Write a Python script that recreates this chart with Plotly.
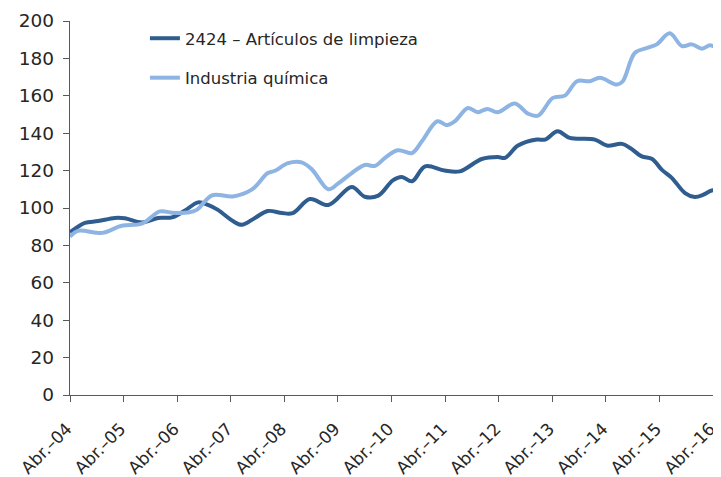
import plotly.graph_objects as go

# Series: 2424 - Artículos de limpieza (dark)
limpieza_dates = ["2004-04-01", "2004-05-25", "2004-07-12", "2004-10-10", "2005-02-01", "2005-04-10",
                  "2005-08-04", "2005-11-22", "2006-02-25", "2006-05-22", "2006-08-22", "2006-10-28",
                  "2007-01-04", "2007-04-16", "2007-06-16", "2007-09-13", "2007-12-10", "2008-03-16",
                  "2008-05-28", "2008-09-22", "2009-01-25", "2009-07-04", "2009-10-01", "2010-01-01",
                  "2010-04-10", "2010-06-10", "2010-08-19", "2010-11-16", "2011-03-28", "2011-07-10",
                  "2011-12-07", "2012-03-25", "2012-05-13", "2012-08-10", "2012-12-16", "2013-02-10",
                  "2013-05-07", "2013-07-28", "2014-01-16", "2014-04-07", "2014-07-19", "2014-09-13",
                  "2014-12-01", "2015-02-10", "2015-04-16", "2015-06-25", "2015-09-22", "2015-11-28",
                  "2016-01-22", "2016-03-22", "2016-04-19"]
limpieza_values = [87, 90, 92, 93, 94.7, 94.5,
                   92.3, 94.7, 95, 98.5, 103, 101.7,
                   99, 93, 91, 94.7, 98.4, 97.3,
                   97.3, 104.8, 101.6, 111.2, 106, 106.6,
                   114.8, 116.6, 114.3, 122.3, 120, 119.6,
                   126.2, 127.3, 126.8, 133.4, 136.6, 136.6,
                   141, 137.5, 136.6, 133.4, 134.3, 132.1,
                   127.6, 126.2, 120.5, 116, 108, 105.9,
                   107, 109.4, 109.2]

# Series: Industria química (light)
quimica_dates = ["2004-04-01", "2004-05-25", "2004-11-07", "2005-03-19", "2005-08-04", "2005-12-04",
                 "2006-02-25", "2006-06-13", "2006-08-13", "2006-11-25", "2007-04-16", "2007-08-22",
                 "2007-12-10", "2008-01-28", "2008-04-25", "2008-07-28", "2008-10-07", "2009-01-25",
                 "2009-04-01", "2009-07-04", "2009-10-01", "2009-12-10", "2010-02-16", "2010-05-13",
                 "2010-08-19", "2010-10-25", "2011-02-07", "2011-04-13", "2011-06-07", "2011-09-04",
                 "2011-11-10", "2012-01-13", "2012-03-25", "2012-07-19", "2012-10-16", "2012-12-25",
                 "2013-04-04", "2013-06-25", "2013-09-16", "2013-12-13", "2014-02-19", "2014-06-16",
                 "2014-07-25", "2014-10-16", "2015-01-13", "2015-03-13", "2015-06-10", "2015-09-01",
                 "2015-11-07", "2016-01-16", "2016-03-10", "2016-04-19"]
quimica_values = [84.6, 87.8, 86.7, 90.5, 91.6, 98.2,
                  97.5, 97.6, 99, 106.8, 106.2, 109.8,
                  118.7, 119.9, 124, 124.4, 120.5, 110,
                  113, 118.7, 123, 122.5, 126.8, 130.9,
                  129.4, 135.7, 146.4, 144.3, 146.4, 153.5,
                  151.2, 153, 151.2, 155.9, 150.5, 149.4,
                  158.9, 160.1, 167.8, 167.8, 169.6, 166,
                  167.8, 183, 185.7, 187.5, 193.4, 186.6,
                  187.5, 185.2, 187, 185.7]

tick_dates = ["2004-04-01", "2005-04-01", "2006-04-01", "2007-04-01", "2008-04-01", "2009-04-01",
              "2010-04-01", "2011-04-01", "2012-04-01", "2013-04-01", "2014-04-01", "2015-04-01",
              "2016-04-01"]
tick_labels = ["Abr.–04", "Abr.–05", "Abr.–06", "Abr.–07", "Abr.–08", "Abr.–09",
               "Abr.–10", "Abr.–11", "Abr.–12", "Abr.–13", "Abr.–14", "Abr.–15", "Abr.–16"]

FONT = "DejaVu Sans"
TXT = "#262626"
AX = "#595959"

fig = go.Figure()
fig.add_trace(go.Scatter(x=limpieza_dates, y=limpieza_values, mode="lines",
                         name="2424 – Artículos de limpieza", legendgroup="a",
                         line=dict(color="#2F5D8F", width=4, shape="spline", smoothing=1.0)))
fig.add_trace(go.Scatter(x=quimica_dates, y=quimica_values, mode="lines",
                         name="Industria química", legendgroup="b",
                         line=dict(color="#8DB4E3", width=4, shape="spline", smoothing=1.0)))

fig.update_layout(
    width=713, height=469,
    margin=dict(l=62, r=5, t=13, b=82),
    paper_bgcolor="white", plot_bgcolor="white",
    font=dict(family=FONT, size=16, color=TXT),
    showlegend=True,
    legend=dict(x=0.116, y=1.0, xanchor="left", yanchor="top",
                bgcolor="rgba(0,0,0,0)", font=dict(size=16.5, color=TXT),
                traceorder="grouped", tracegroupgap=15, itemwidth=30),
)
fig.update_xaxes(
    type="date", range=["2004-04-01", "2016-04-20"], automargin=False,
    tickmode="array", tickvals=tick_dates, ticktext=tick_labels, tickangle=-45,
    ticklabeloverflow="allow", ticklabelstandoff=10, ticklabelshift=-3,
    showgrid=False, zeroline=False, showline=True, linecolor=AX, linewidth=1.3,
    ticks="outside", ticklen=6, tickcolor=AX, tickwidth=1.3,
    tickfont=dict(family=FONT, size=17, color=TXT),
)
fig.update_yaxes(
    range=[0, 200], tickvals=list(range(0, 201, 20)), automargin=False,
    showgrid=False, zeroline=False, showline=True, linecolor=AX, linewidth=1.3,
    ticks="outside", ticklen=6, tickcolor=AX, tickwidth=1.3, ticklabelstandoff=5,
    tickfont=dict(family=FONT, size=18.5, color=TXT),
)

fig.write_html("out.html")
